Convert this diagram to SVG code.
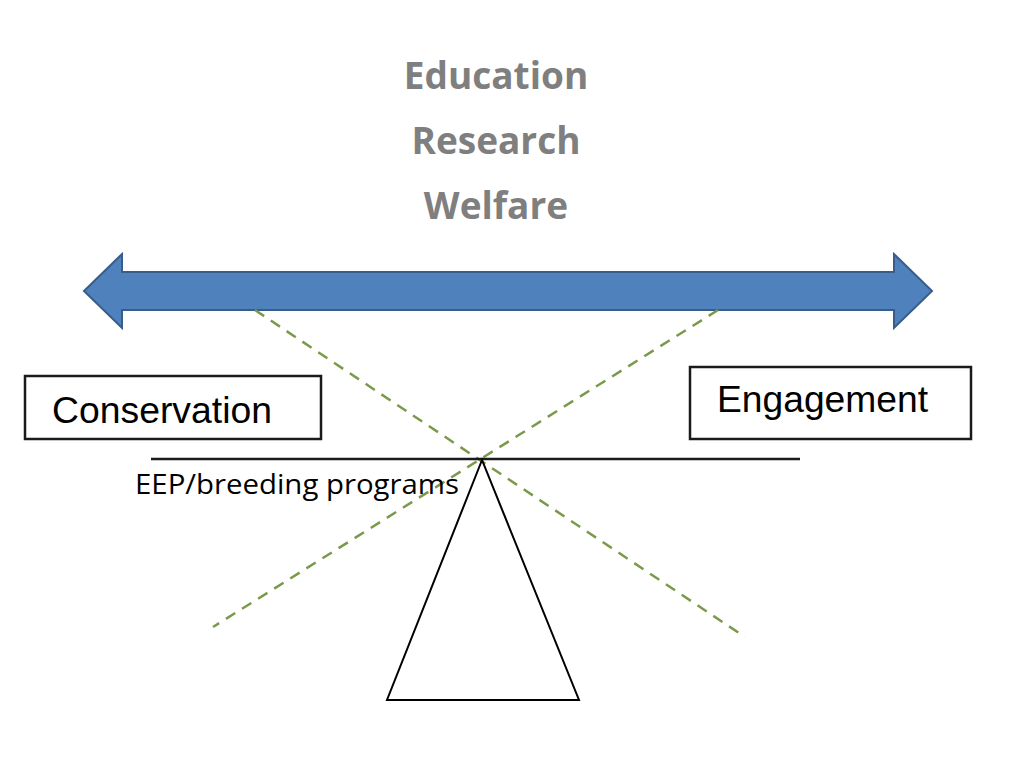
<svg xmlns="http://www.w3.org/2000/svg" width="1024" height="768" viewBox="0 0 1024 768">
<style>
.top{font-family:"Open Sans","Liberation Sans",sans-serif;font-weight:bold;font-size:37px;fill:#7f7f7f;text-anchor:middle}
.box{fill:#fff;stroke:#1a1a1a;stroke-width:2.5}
.lbl{font-family:"Liberation Sans",Arial,sans-serif;font-size:37px;fill:#000}
.dash{stroke:#7a9a4a;stroke-width:2.5;stroke-dasharray:11 8;fill:none}
</style>
<rect width="1024" height="768" fill="#fff"/>
<g id="titles">
<text class="top" x="496" y="89">Education</text>
<text class="top" x="496" y="154">Research</text>
<text class="top" x="496" y="219">Welfare</text>
</g>
<g id="arrow">
<path d="M84,291 L122,254 L122,272 L894,272 L894,254 L932,291 L894,328 L894,310 L122,310 L122,328 Z" fill="#4f81bd" stroke="#385d8a" stroke-width="2"/>
</g>
<g id="connectors">
<line class="dash" x1="255" y1="310" x2="745" y2="637"/>
<line class="dash" x1="718" y1="310" x2="213" y2="627"/>
</g>
<g id="conservation">
<rect class="box" x="25" y="376" width="296" height="63"/>
<text class="lbl" x="52" y="423" textLength="220" lengthAdjust="spacingAndGlyphs">Conservation</text>
</g>
<g id="engagement">
<rect class="box" x="690" y="367" width="281" height="72"/>
<text class="lbl" x="717" y="412" textLength="211" lengthAdjust="spacingAndGlyphs">Engagement</text>
</g>
<g id="seesaw">
<line x1="151" y1="459" x2="800" y2="459" stroke="#1a1a1a" stroke-width="2.5"/>
<path d="M482,460 L387,700 L579,700 Z" fill="none" stroke="#000" stroke-width="2"/>
<text x="135" y="494" font-family="Open Sans, Liberation Sans, sans-serif" font-size="28" fill="#000" textLength="324" lengthAdjust="spacingAndGlyphs">EEP/breeding programs</text>
</g>
</svg>
